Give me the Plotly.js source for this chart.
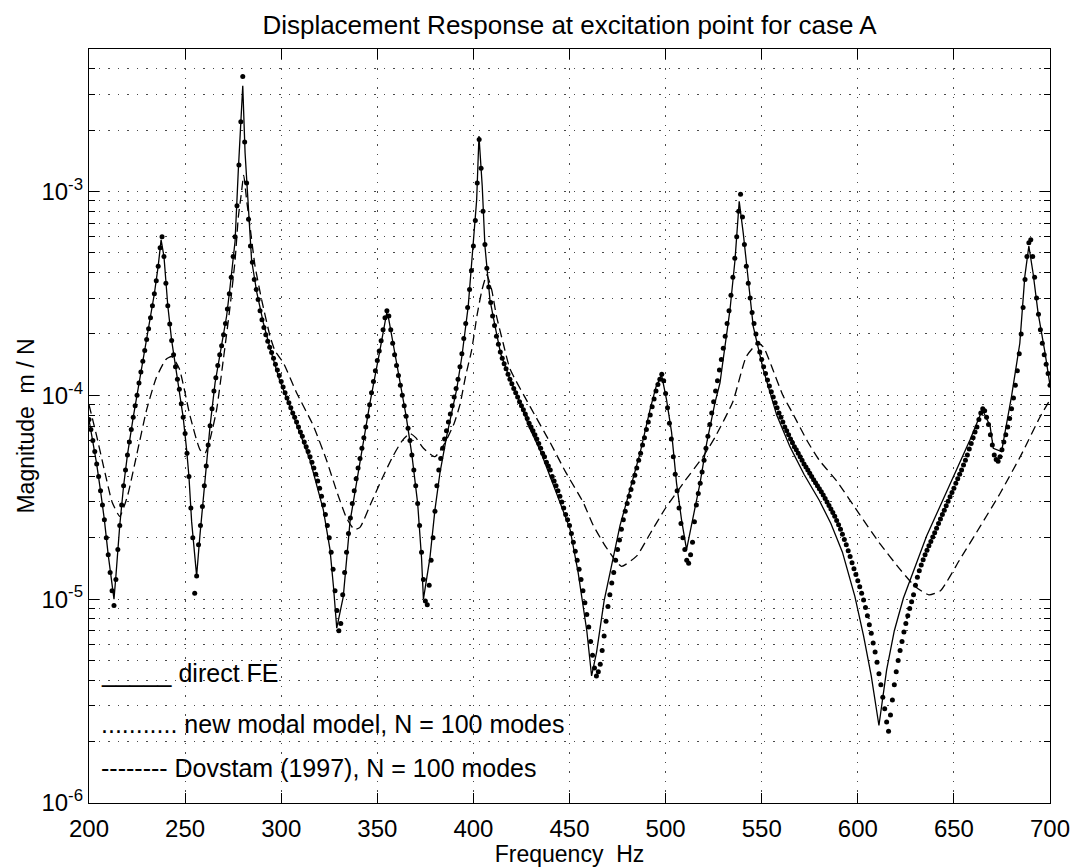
<!DOCTYPE html>
<html>
<head>
<meta charset="utf-8">
<script src="https://cdn.plot.ly/plotly-3.0.1.min.js"></script>
<style>html,body{margin:0;padding:0;background:#fff;}#chart{width:1073px;height:867px;}</style>
</head>
<body>
<div id="chart"></div>
<script>
// ---------- data ----------
var titleText = "Displacement Response at excitation point for case A";
var xTitle = "Frequency\u00a0\u00a0Hz";
var yTitle = "Magnitude\u00a0\u00a0m / N";

var xTickVals = [200, 250, 300, 350, 400, 450, 500, 550, 600, 650, 700];
var yTickVals = [1e-6, 1e-5, 1e-4, 1e-3];
var yTickText = ["10<sup>-6</sup>", "10<sup>-5</sup>", "10<sup>-4</sup>", "10<sup>-3</sup>"];

var legendLabels = [
  "_____ direct FE",
  "........... new modal model, N = 100 modes",
  "-------- Dovstam (1997), N = 100 modes"
];

// direct FE (solid line)
var feFreq = [200,202,204,206,208,210,212,213,214,216,218,220,223,226,229,232,234,236,237.5,239,241,243,245,247.3,249,250.8,252,253.4,255,256,257.7,260.4,263,265.6,268.2,271.6,273.4,276,277.7,279,280,281.2,282.9,284.6,287.3,290.7,294.2,299,304.6,310,315,321.9,325.4,327.2,328.9,332.3,335.8,341,346.2,351.4,354.9,356,359.2,362,365,368,371,373,374,377.4,380,382.6,386.1,391.3,394,397.3,400,401.7,402.9,404.6,406,408.6,411.2,414.2,419,424.2,429,434.6,443.3,450.3,454.5,459,461.5,464.1,468,472,476.3,479.7,486.7,491.9,495,497.9,500.5,503.1,505.7,508.3,510.9,514.4,517.9,521.4,525.7,528.3,533.5,536.1,538.3,540.4,543,545.6,550.8,557.8,564.7,572,580,586,592,598.5,603,607,611,615,619,623.7,635.8,649.7,658.4,664.8,668.8,670.5,674.8,680,684.3,686.9,689,691.2,693.8,697.4,700];
var feMag = [7.6e-5,6.0e-5,4.6e-5,3.4e-5,2.45e-5,1.65e-5,1.15e-5,1.0e-5,1.3e-5,2.3e-5,3.6e-5,5.1e-5,7.8e-5,1.15e-4,1.66e-4,2.4e-4,3.15e-4,4.3e-4,5.8e-4,4.8e-4,2.75e-4,1.86e-4,1.38e-4,1.03e-4,7.8e-5,5.4e-5,4.0e-5,2.4e-5,1.6e-5,1.3e-5,2.05e-5,3.9e-5,7.1e-5,1.15e-4,1.6e-4,2.45e-4,3.4e-4,5.7e-4,1.28e-3,2.3e-3,3.3e-3,1.55e-3,8.1e-4,4.6e-4,3.2e-4,2.27e-4,1.7e-4,1.2e-4,8.8e-5,6.5e-5,4.8e-5,2.75e-5,1.75e-5,1.15e-5,7.2e-6,1.03e-5,2.4e-5,4.7e-5,9.2e-5,1.67e-4,2.54e-4,2.35e-4,1.6e-4,1.12e-4,7.9e-5,5.1e-5,2.95e-5,1.6e-5,1.0e-5,1.6e-5,2.75e-5,4.17e-5,6.3e-5,1.07e-4,1.55e-4,2.73e-4,5.4e-4,9.1e-4,1.87e-3,1.06e-3,5.4e-4,2.95e-4,2.2e-4,1.6e-4,1.2e-4,9.2e-5,7.0e-5,5.4e-5,3.3e-5,2.2e-5,1.35e-5,7.0e-6,4.2e-6,5.5e-6,9.8e-6,1.5e-5,2.3e-5,3.0e-5,5.2e-5,8.5e-5,1.1e-4,1.26e-4,9.5e-5,6.6e-5,3.7e-5,2.45e-5,1.75e-5,2.55e-5,3.7e-5,5.85e-5,9.2e-5,1.15e-4,2.63e-4,4.6e-4,8.95e-4,6.25e-4,3.55e-4,2.18e-4,1.34e-4,8.0e-5,5.6e-5,4.1e-5,3.05e-5,2.35e-5,1.7e-5,1.03e-5,6.6e-6,4.2e-6,2.4e-6,4.5e-6,7.0e-6,1.01e-5,2.04e-5,4.0e-5,6.05e-5,8.5e-5,7.1e-5,5.5e-5,5.3e-5,9.9e-5,1.8e-4,3.83e-4,5.4e-4,3.97e-4,2.54e-4,1.62e-4,1.12e-4];

// new modal model (dots), one per Hz from 200 to 700
var modalFreq = [];
for (var f = 200; f <= 700; f++) modalFreq.push(f);
var modalMag = [
7.6e-5,6.8e-5,6.0e-5,5.3e-5,4.6e-5,4.0e-5,3.4e-5,2.9e-5,2.45e-5,2.0e-5,
1.65e-5,1.35e-5,1.1e-5,9.3e-6,1.25e-5,1.75e-5,2.3e-5,2.9e-5,3.6e-5,4.3e-5,
5.1e-5,5.9e-5,6.8e-5,7.8e-5,8.9e-5,1.0e-4,1.15e-4,1.3e-4,1.47e-4,1.66e-4,
1.88e-4,2.12e-4,2.4e-4,2.75e-4,3.15e-4,3.65e-4,4.3e-4,5.3e-4,6.0e-4,4.8e-4,
3.55e-4,2.75e-4,2.24e-4,1.86e-4,1.58e-4,1.38e-4,1.2e-4,1.07e-4,9.1e-5,7.8e-5,
6.5e-5,5.2e-5,4.0e-5,2.8e-5,2.0e-5,1.07e-5,1.3e-5,1.85e-5,2.3e-5,2.85e-5,
3.6e-5,4.5e-5,5.7e-5,7.1e-5,8.6e-5,1.05e-4,1.22e-4,1.4e-4,1.58e-4,1.75e-4,
1.98e-4,2.25e-4,2.65e-4,3.15e-4,3.8e-4,4.8e-4,6.0e-4,8.5e-4,1.35e-3,2.2e-3,
3.66e-3,1.75e-3,1.1e-3,7.3e-4,5.4e-4,4.5e-4,3.7e-4,3.3e-4,2.95e-4,2.6e-4,
2.35e-4,2.15e-4,1.98e-4,1.84e-4,1.72e-4,1.62e-4,1.52e-4,1.42e-4,1.33e-4,1.25e-4,
1.17e-4,1.1e-4,1.03e-4,9.7e-5,9.2e-5,8.7e-5,8.2e-5,7.8e-5,7.4e-5,7.0e-5,
6.6e-5,6.3e-5,5.9e-5,5.6e-5,5.3e-5,5.0e-5,4.7e-5,4.4e-5,4.1e-5,3.8e-5,
3.5e-5,3.2e-5,2.9e-5,2.6e-5,2.3e-5,2.0e-5,1.7e-5,1.4e-5,1.1e-5,8.8e-6,
7.0e-6,7.6e-6,1.05e-5,1.35e-5,1.7e-5,2.1e-5,2.5e-5,2.95e-5,3.4e-5,3.9e-5,
4.4e-5,4.9e-5,5.5e-5,6.2e-5,7.0e-5,7.9e-5,9.0e-5,1.03e-4,1.17e-4,1.32e-4,
1.48e-4,1.65e-4,1.85e-4,2.1e-4,2.4e-4,2.6e-4,2.45e-4,2.1e-4,1.8e-4,1.58e-4,
1.4e-4,1.25e-4,1.12e-4,1.0e-4,8.9e-5,7.9e-5,6.9e-5,6.0e-5,5.1e-5,4.3e-5,
3.6e-5,2.95e-5,2.3e-5,1.7e-5,1.25e-5,9.8e-6,9.4e-6,1.17e-5,1.55e-5,2.0e-5,
2.7e-5,3.6e-5,4.3e-5,4.9e-5,5.5e-5,6.1e-5,6.7e-5,7.4e-5,8.1e-5,8.9e-5,
9.8e-5,1.08e-4,1.2e-4,1.38e-4,1.6e-4,1.9e-4,2.25e-4,2.7e-4,3.3e-4,4.1e-4,
5.4e-4,7.2e-4,1.1e-3,1.8e-3,1.3e-3,8.0e-4,5.5e-4,4.2e-4,3.4e-4,2.85e-4,
2.45e-4,2.2e-4,1.95e-4,1.78e-4,1.63e-4,1.52e-4,1.43e-4,1.35e-4,1.27e-4,1.2e-4,
1.14e-4,1.08e-4,1.03e-4,9.8e-5,9.3e-5,8.9e-5,8.5e-5,8.1e-5,7.7e-5,7.3e-5,
7.0e-5,6.7e-5,6.4e-5,6.1e-5,5.8e-5,5.5e-5,5.2e-5,5.0e-5,4.7e-5,4.5e-5,
4.3e-5,4.0e-5,3.8e-5,3.6e-5,3.4e-5,3.2e-5,3.0e-5,2.8e-5,2.6e-5,2.45e-5,
2.3e-5,2.1e-5,1.9e-5,1.72e-5,1.55e-5,1.4e-5,1.25e-5,1.1e-5,9.6e-6,8.4e-6,
7.3e-6,6.2e-6,5.3e-6,4.6e-6,4.2e-6,4.4e-6,4.8e-6,5.6e-6,6.6e-6,7.8e-6,
9.2e-6,1.05e-5,1.2e-5,1.35e-5,1.55e-5,1.75e-5,1.95e-5,2.2e-5,2.45e-5,2.7e-5,
2.95e-5,3.2e-5,3.45e-5,3.75e-5,4.05e-5,4.4e-5,4.8e-5,5.2e-5,5.7e-5,6.2e-5,
6.8e-5,7.4e-5,8.0e-5,8.8e-5,9.6e-5,1.05e-4,1.13e-4,1.2e-4,1.27e-4,1.18e-4,
1.02e-4,8.7e-5,7.3e-5,6.1e-5,5.0e-5,4.1e-5,3.4e-5,2.8e-5,2.35e-5,2.0e-5,
1.75e-5,1.55e-5,1.5e-5,1.65e-5,1.9e-5,2.4e-5,2.9e-5,3.3e-5,3.7e-5,4.2e-5,
4.8e-5,5.5e-5,6.3e-5,7.2e-5,8.2e-5,9.3e-5,1.05e-4,1.18e-4,1.33e-4,1.5e-4,
1.7e-4,1.95e-4,2.25e-4,2.6e-4,3.1e-4,3.8e-4,4.7e-4,6.0e-4,8.0e-4,9.7e-4,
7.5e-4,5.5e-4,4.3e-4,3.55e-4,3.0e-4,2.55e-4,2.25e-4,2.0e-4,1.8e-4,1.63e-4,
1.5e-4,1.38e-4,1.28e-4,1.19e-4,1.11e-4,1.04e-4,9.8e-5,9.2e-5,8.7e-5,8.2e-5,
7.8e-5,7.4e-5,7.0e-5,6.7e-5,6.4e-5,6.1e-5,5.85e-5,5.6e-5,5.4e-5,5.2e-5,
5.0e-5,4.8e-5,4.6e-5,4.45e-5,4.3e-5,4.15e-5,4.0e-5,3.85e-5,3.72e-5,3.6e-5,
3.48e-5,3.36e-5,3.24e-5,3.12e-5,3.0e-5,2.88e-5,2.77e-5,2.66e-5,2.55e-5,2.43e-5,
2.32e-5,2.2e-5,2.08e-5,1.96e-5,1.85e-5,1.73e-5,1.62e-5,1.51e-5,1.41e-5,1.32e-5,
1.23e-5,1.15e-5,1.07e-5,9.9e-6,9.1e-6,8.3e-6,7.5e-6,6.8e-6,6.1e-6,5.5e-6,
4.9e-6,4.3e-6,3.8e-6,3.3e-6,2.9e-6,2.5e-6,2.25e-6,2.7e-6,3.2e-6,3.8e-6,
4.4e-6,5.0e-6,5.6e-6,6.2e-6,6.9e-6,7.6e-6,8.3e-6,9.0e-6,9.7e-6,1.05e-5,
1.17e-5,1.28e-5,1.38e-5,1.47e-5,1.56e-5,1.65e-5,1.74e-5,1.83e-5,1.92e-5,2.02e-5,
2.12e-5,2.23e-5,2.35e-5,2.47e-5,2.6e-5,2.73e-5,2.87e-5,3.02e-5,3.18e-5,3.34e-5,
3.5e-5,3.7e-5,3.9e-5,4.1e-5,4.3e-5,4.55e-5,4.8e-5,5.1e-5,5.45e-5,5.8e-5,
6.2e-5,6.6e-5,7.0e-5,7.6e-5,8.2e-5,8.6e-5,8.4e-5,7.8e-5,7.2e-5,6.4e-5,
5.7e-5,5.1e-5,4.85e-5,4.75e-5,5.0e-5,5.4e-5,5.9e-5,6.4e-5,7.0e-5,7.7e-5,
8.6e-5,9.7e-5,1.12e-4,1.32e-4,1.6e-4,2.0e-4,2.7e-4,3.7e-4,4.8e-4,5.6e-4,
5.8e-4,4.8e-4,3.8e-4,3.0e-4,2.5e-4,2.1e-4,1.8e-4,1.58e-4,1.42e-4,1.28e-4,
1.12e-4];

// Dovstam (1997) (dashed line)
var dovFreq = [200,204,208,212,216,220,225,230,235,240,243,247,252.6,257.8,260.4,263,266.4,269.9,273.4,276,277.7,279.1,280.5,282,283.8,286.4,289.8,294.2,296.8,301,308,316.7,323.6,328.8,334,338,341,347,353,358,363,367,370,374,380,385,390,393,396,399,402,404.5,407,409.5,412,415.5,419,429.5,440,448,457,462.4,469,477,485,492,500,510,519.5,526,535,542,548,551,555,561,566,574,580,589,601,611,622,630,637,643,653,664,674,685,695,700];
var dovMag = [9.0e-5,6.3e-5,4.3e-5,3.0e-5,2.55e-5,3.2e-5,5.2e-5,8.5e-5,1.22e-4,1.5e-4,1.55e-4,1.35e-4,7.9e-5,5.4e-5,5.2e-5,6.1e-5,8.5e-5,1.5e-4,2.73e-4,4.6e-4,7.5e-4,9.5e-4,1.2e-3,9.1e-4,6.7e-4,4.3e-4,2.95e-4,1.95e-4,1.65e-4,1.45e-4,1.03e-4,7.1e-5,4.8e-5,3.4e-5,2.5e-5,2.2e-5,2.25e-5,3.0e-5,4.0e-5,5.0e-5,6.0e-5,6.5e-5,6.2e-5,5.5e-5,5.0e-5,5.8e-5,7.3e-5,9.0e-5,1.25e-4,1.65e-4,2.5e-4,3.3e-4,3.9e-4,3.3e-4,2.45e-4,1.8e-4,1.35e-4,8.8e-5,5.85e-5,4.2e-5,3.0e-5,2.3e-5,1.8e-5,1.45e-5,1.63e-5,2.1e-5,2.8e-5,3.8e-5,5.0e-5,6.3e-5,9.3e-5,1.55e-4,1.8e-4,1.72e-4,1.4e-4,1.0e-4,8.2e-5,5.9e-5,4.8e-5,3.8e-5,2.6e-5,1.9e-5,1.4e-5,1.15e-5,1.05e-5,1.1e-5,1.56e-5,2.3e-5,3.3e-5,5.1e-5,7.9e-5,9.5e-5];

// ---------- chart ----------
var FONT = "Liberation Sans, Arial, Helvetica, sans-serif";
var GRIDCOLOR = "#4a4a4a";
var GRIDDASH = "1.5px,8px";

var minorY = [];
[1e-6, 1e-5, 1e-4, 1e-3].forEach(function (d) {
  [2, 3, 4, 5, 6, 7, 8, 9].forEach(function (m) {
    if (m * d < 5e-3) minorY.push(m * d);
  });
});

var traces = [
  {x: dovFreq, y: dovMag, type: "scatter", mode: "lines", name: "Dovstam (1997), N = 100 modes",
   line: {color: "#000", width: 1.3, dash: "9px,5px", shape: "spline", smoothing: 0.5}, hoverinfo: "skip"},
  {x: feFreq, y: feMag, type: "scatter", mode: "lines", name: "direct FE",
   line: {color: "#000", width: 1.3}, hoverinfo: "skip"},
  {x: modalFreq, y: modalMag, type: "scatter", mode: "markers", name: "new modal model, N = 100 modes",
   marker: {color: "#000", size: 5}, hoverinfo: "skip"}
];

function px2paperX(px) { return (px - 89) / 961; }
function px2paperY(py) { return (803 - py) / 754; }

var annotations = [
  {text: legendLabels[0], x: px2paperX(99), y: px2paperY(673)},
  {text: legendLabels[1], x: px2paperX(99), y: px2paperY(724)},
  {text: legendLabels[2], x: px2paperX(99), y: px2paperY(768)}
].map(function (a) {
  return {text: a.text, xref: "paper", yref: "paper", x: a.x, y: a.y,
          xanchor: "left", yanchor: "middle", showarrow: false,
          font: {family: FONT, size: 25, color: "#000"}};
});

var layout = {
  width: 1073, height: 867,
  margin: {l: 89, r: 23, t: 49, b: 64},
  paper_bgcolor: "#fff", plot_bgcolor: "#fff",
  showlegend: false,
  font: {family: FONT, color: "#000", size: 24},
  title: {text: titleText, font: {family: FONT, size: 26, color: "#000"},
          x: 0.5, xref: "paper", xanchor: "center", y: 1 - 25 / 867, yref: "container", yanchor: "middle"},
  xaxis: {
    range: [200, 700], tickmode: "array", tickvals: xTickVals,
    ticks: "inside", ticklen: 10, tickwidth: 1, tickcolor: "#000",
    mirror: "allticks", showline: true, linecolor: "#000", linewidth: 1.2,
    showgrid: true, gridcolor: GRIDCOLOR, griddash: GRIDDASH, gridwidth: 1,
    zeroline: false, tickfont: {family: FONT, size: 24, color: "#000"},
    ticklabelstandoff: 4,
    title: {text: xTitle, font: {family: FONT, size: 23, color: "#000"}, standoff: 0}
  },
  yaxis: {
    type: "log", range: [-6, Math.log10(5e-3)],
    tickmode: "array", tickvals: yTickVals, ticktext: yTickText,
    ticks: "inside", ticklen: 10, tickwidth: 1, tickcolor: "#000",
    mirror: "allticks", showline: true, linecolor: "#000", linewidth: 1.2,
    showgrid: true, gridcolor: GRIDCOLOR, griddash: GRIDDASH, gridwidth: 1,
    zeroline: false, tickfont: {family: FONT, size: 24, color: "#000"},
    minor: {tickmode: "array", tickvals: minorY, ticks: "inside", ticklen: 6, tickcolor: "#000",
            showgrid: true, gridcolor: GRIDCOLOR, griddash: GRIDDASH, gridwidth: 1},
    title: {text: yTitle, font: {family: FONT, size: 23, color: "#000"}, standoff: 0}
  },
  annotations: annotations
};

Plotly.newPlot("chart", traces, layout, {staticPlot: true, displayModeBar: false});
</script>
</body>
</html>
